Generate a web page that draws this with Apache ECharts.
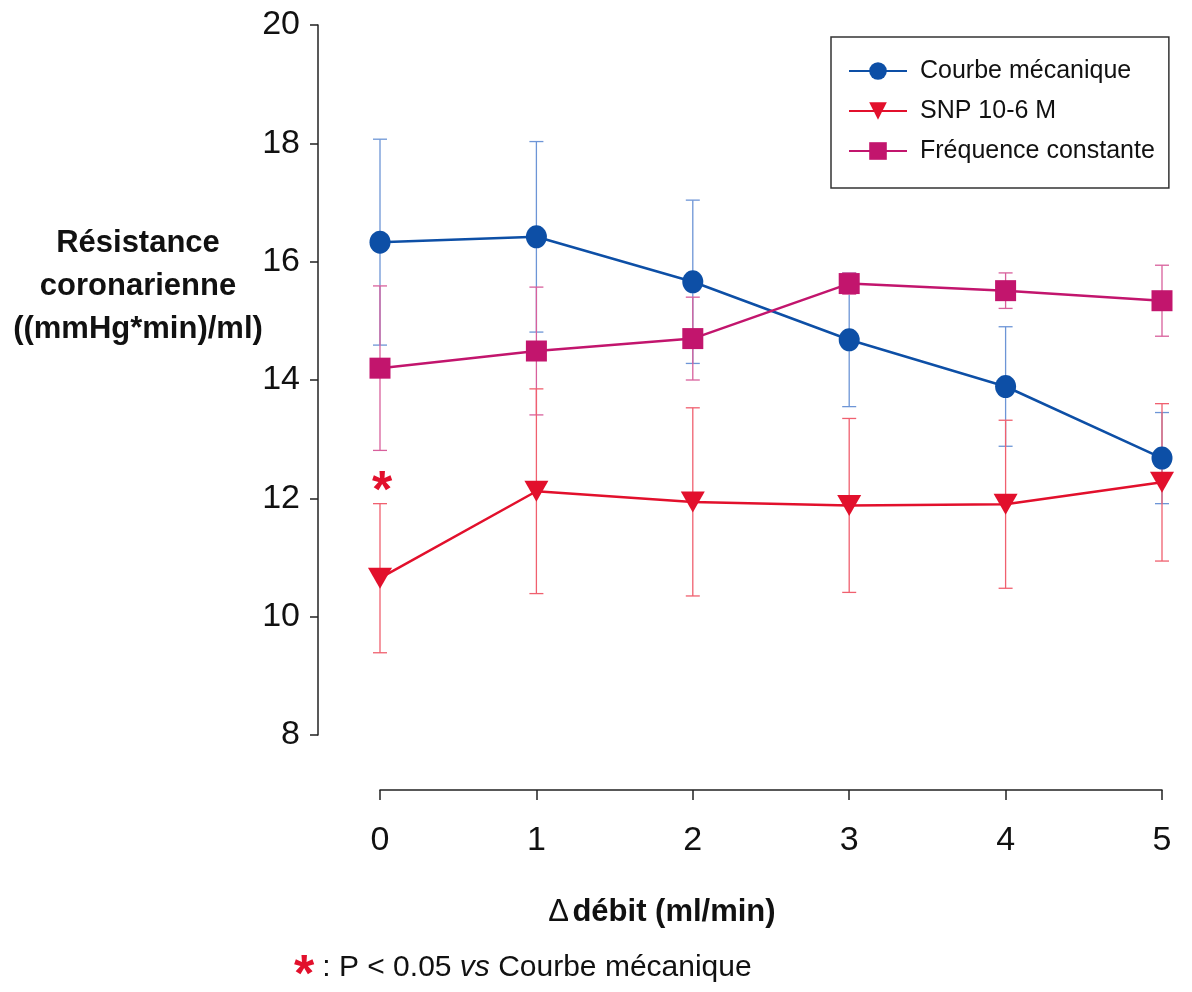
<!DOCTYPE html>
<html>
<head>
<meta charset="utf-8">
<script src="https://cdn.jsdelivr.net/npm/echarts@6/dist/echarts.min.js"></script>
<style>html,body{margin:0;padding:0;background:#fff}#c{width:1192px;height:992px}</style>
</head>
<body>
<div id="c"></div>
<script>
// ---- data ----
const xValues = [0, 1, 2, 3, 4, 5];
const seriesNames = ['Courbe mécanique', 'SNP 10-6 M', 'Fréquence constante'];
const courbeMean = [16.33, 16.42, 15.66, 14.68, 13.89, 12.68];
const courbeSD   = [1.74, 1.61, 1.38, 1.13, 1.01, 0.77];
const snpMean    = [10.65, 12.12, 11.94, 11.88, 11.90, 12.27];
const snpSD      = [1.26, 1.73, 1.59, 1.47, 1.42, 1.33];
const freqMean   = [14.20, 14.49, 14.70, 15.63, 15.51, 15.34];
const freqSD     = [1.39, 1.08, 0.70, 0.18, 0.30, 0.60];
const yTicks = [8, 10, 12, 14, 16, 18, 20];
const xTicks = [0, 1, 2, 3, 4, 5];
const sigMark = { x: 0, y: 12.3, text: '*' };

const FONT = "'Liberation Sans', Arial, sans-serif";
const colors = { courbe: '#0d4fa6', snp: '#e2102c', freq: '#c2156d' };
const barColors = { courbe: '#6d95d6', snp: '#f0606f', freq: '#d8609c' };

function pts(mean) { return xValues.map((x, i) => [x, mean[i]]); }
function errs(mean, sd) { return xValues.map((x, i) => [x, mean[i] - sd[i], mean[i] + sd[i]]); }

function errSeries(data, color) {
  return {
    type: 'custom', data: data, z: 1, silent: true,
    encode: { x: 0, y: [1, 2] },
    renderItem: function (params, api) {
      const x = api.value(0);
      const lo = api.coord([x, api.value(1)]);
      const hi = api.coord([x, api.value(2)]);
      const w = 7;
      const st = { stroke: color, lineWidth: 1.3 };
      return { type: 'group', children: [
        { type: 'line', shape: { x1: lo[0], y1: lo[1], x2: hi[0], y2: hi[1] }, style: st },
        { type: 'line', shape: { x1: hi[0] - w, y1: hi[1], x2: hi[0] + w, y2: hi[1] }, style: st },
        { type: 'line', shape: { x1: lo[0] - w, y1: lo[1], x2: lo[0] + w, y2: lo[1] }, style: st }
      ]};
    }
  };
}

const chart = echarts.init(document.getElementById('c'));
chart.setOption({
  animation: false,
  backgroundColor: '#fff',
  textStyle: { fontFamily: FONT },
  grid: { left: 380, right: 30, top: 25, bottom: 257 },
  legend: {
    data: seriesNames,
    orient: 'vertical',
    left: 831, top: 37,
    padding: [21, 14, 24, 17],
    itemWidth: 58, itemHeight: 22, itemGap: 14,
    borderColor: '#333', borderWidth: 1.5,
    textStyle: { fontSize: 25, color: '#111', fontFamily: FONT, lineHeight: 26, padding: [0, 0, 0, 8] }
  },
  xAxis: {
    type: 'value', min: 0, max: 5, interval: 1, offset: 55,
    axisLine: { show: true, onZero: false, lineStyle: { color: '#222', width: 1.5 } },
    axisTick: { show: true, length: 10, lineStyle: { color: '#222', width: 1.5 } },
    axisLabel: { fontSize: 34, color: '#111', margin: 34, fontFamily: FONT,
      formatter: v => xTicks.includes(v) ? String(v) : '' },
    splitLine: { show: false }
  },
  yAxis: {
    type: 'value', min: 8, max: 20, interval: 2, offset: 62,
    axisLine: { show: true, onZero: false, lineStyle: { color: '#222', width: 1.5 } },
    axisTick: { show: true, length: 8, lineStyle: { color: '#222', width: 1.5 } },
    axisLabel: { fontSize: 34, color: '#111', margin: 18, fontFamily: FONT,
      formatter: v => yTicks.includes(v) ? String(v) : '' },
    splitLine: { show: false }
  },
  series: [
    errSeries(errs(courbeMean, courbeSD), barColors.courbe),
    errSeries(errs(freqMean, freqSD), barColors.freq),
    errSeries(errs(snpMean, snpSD), barColors.snp),
    { name: seriesNames[0], type: 'line', data: pts(courbeMean), z: 3,
      symbol: 'circle', symbolSize: [21, 23], color: colors.courbe,
      lineStyle: { width: 2.5, color: colors.courbe }, itemStyle: { color: colors.courbe } },
    { name: seriesNames[1], type: 'line', data: pts(snpMean), z: 3,
      symbol: 'triangle', symbolSize: [24, 21], symbolRotate: 180, color: colors.snp,
      lineStyle: { width: 2.5, color: colors.snp }, itemStyle: { color: colors.snp },
      markPoint: { symbol: 'circle', symbolSize: 0, silent: true,
        data: [{ coord: [sigMark.x, sigMark.y], value: sigMark.text }],
        label: { show: true, position: 'inside', formatter: sigMark.text, fontSize: 52, fontWeight: 'bold', color: colors.snp, offset: [2, 12] } } },
    { name: seriesNames[2], type: 'line', data: pts(freqMean), z: 3,
      symbol: 'rect', symbolSize: 21, color: colors.freq,
      lineStyle: { width: 2.5, color: colors.freq }, itemStyle: { color: colors.freq } }
  ],
  graphic: [
    { type: 'text', x: 138, y: 222, style: {
      text: 'Résistance\ncoronarienne\n((mmHg*min)/ml)', align: 'center', verticalAlign: 'top',
      font: 'bold 31px ' + FONT, lineHeight: 43, fill: '#111' } },
    { type: 'text', x: 662, y: 912, style: {
      text: '{d|Δ} {b|débit (ml/min)}', align: 'center', verticalAlign: 'middle',
      rich: { d: { font: '31px ' + FONT, fill: '#111' }, b: { font: 'bold 31px ' + FONT, fill: '#111' } } } },
    { type: 'text', x: 294, y: 968, style: {
      text: '{s|*}{t|: P < 0.05 }{i|vs}{t| Courbe mécanique}', align: 'left', verticalAlign: 'middle',
      rich: {
        s: { font: 'bold 52px ' + FONT, fill: colors.snp, padding: [18, 8, 0, 0] },
        t: { font: '30px ' + FONT, fill: '#111' },
        i: { font: 'italic 30px ' + FONT, fill: '#111' }
      } } }
  ]
});
</script>
</body>
</html>
